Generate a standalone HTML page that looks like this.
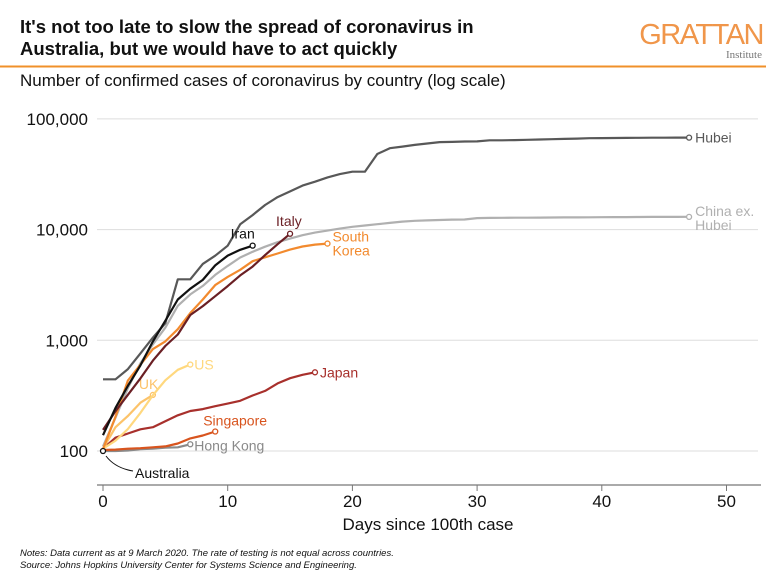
<!DOCTYPE html>
<html><head><meta charset="utf-8">
<style>
body{margin:0;background:#fff;font-family:"Liberation Sans",Arial,sans-serif;}
svg{display:block}
</style></head>
<body>
<svg id="chart" width="781" height="587" xmlns="http://www.w3.org/2000/svg">
<text x="20" y="33" font-size="18.5" font-weight="bold" fill="#111">It's not too late to slow the spread of coronavirus in</text>
<text x="20" y="55" font-size="18.5" font-weight="bold" fill="#111">Australia, but we would have to act quickly</text>
<text x="763" y="44" font-size="29" fill="#f0964a" text-anchor="end" letter-spacing="-1.5">GRATTAN</text>
<text x="762" y="58" font-size="11" fill="#777" text-anchor="end" font-family="Liberation Serif,serif">Institute</text>
<line x1="0" y1="66.5" x2="766" y2="66.5" stroke="#f0902a" stroke-width="2"/>
<text x="20" y="86" font-size="17" fill="#111">Number of confirmed cases of coronavirus by country (log scale)</text>
<g id="grid"></g>
<g id="series"></g>
<line x1="97" y1="485" x2="761" y2="485" stroke="#777" stroke-width="1.2"/>
<text x="428" y="530" font-size="17" text-anchor="middle" fill="#111">Days since 100th case</text>
<text x="20" y="556" font-size="9.5" font-style="italic" fill="#111">Notes: Data current as at 9 March 2020. The rate of testing is not equal across countries.</text>
<text x="20" y="568" font-size="9.5" font-style="italic" fill="#111">Source: Johns Hopkins University Center for Systems Science and Engineering.</text>
</svg>
<script>
const yTicks=[100,1000,10000,100000];
const yTickLabels=["100","1,000","10,000","100,000"];
const xTicks=[0,10,20,30,40,50];
const hubei=[444,444,549,761,1058,1423,3554,3554,4903,5806,7153,11177,13522,16678,19665,22112,24953,27100,29631,31728,33366,33366,48206,54406,56249,58182,59989,61682,62031,62442,62662,64084,64084,64287,64786,65187,65596,65914,66337,66907,67103,67217,67332,67466,67592,67666,67707,67743];
const chinaEx=[110,200,370,620,920,1300,2050,2600,3100,3900,4700,5600,6300,7000,7700,8300,8900,9400,9800,10200,10600,10900,11200,11500,11800,12000,12100,12200,12300,12350,12700,12750,12780,12800,12820,12840,12860,12880,12900,12920,12940,12960,12980,13000,13010,13020,13030,13040];
const iran=[139,245,388,593,978,1501,2336,2922,3513,4747,5823,6566,7161];
const italy=[155,229,322,453,655,888,1128,1694,2036,2502,3089,3858,4636,5883,7375,9172];
const southKorea=[104,204,433,602,833,977,1261,1766,2337,3150,3736,4335,5186,5621,6088,6593,7041,7314,7478];
const us=[105,124,158,221,319,435,541,604];
const uk=[105,164,207,273,321];
const japan=[105,132,144,157,164,186,210,230,239,254,268,284,317,349,408,455,488,514];
const singapore=[102,103,105,106,108,110,117,130,138,150];
const hongKong=[100,100,101,104,105,107,108,115];
const australia=[100];

const X=d=>103+d*12.47;
const Y=v=>451-(Math.log10(v)-2)*110.7;
const NS="http://www.w3.org/2000/svg";
const grid=document.getElementById('grid'),ser=document.getElementById('series'),svg=document.getElementById('chart');
function mk(tag,attrs,parent){const e=document.createElementNS(NS,tag);for(const k in attrs)e.setAttribute(k,attrs[k]);parent.appendChild(e);return e;}
yTicks.forEach((t,i)=>{
  const l=mk('line',{x1:97,x2:758,y1:Y(t),y2:Y(t),stroke:'#ddd','stroke-width':1},grid);
  
  
  const tx=mk('text',{x:88,y:Y(t)+6,'font-size':17,'text-anchor':'end',fill:'#111'},grid);
  tx.textContent=yTickLabels[i];
  
  
});
xTicks.forEach(t=>{
  const l=mk('line',{x1:X(t),x2:X(t),y1:485,y2:491,stroke:'#777'},grid);
  
  
  const tx=mk('text',{x:X(t),y:507,'font-size':17,'text-anchor':'middle',fill:'#111'},grid);
  tx.textContent=t;
  
  
});
const defs=[
 [chinaEx,'#b0b0b0','china-ex-hubei',['China ex.','Hubei'],6,-1],
 [hubei,'#585858','hubei',['Hubei'],6,5],
 [hongKong,'#8a8a8a','hong-kong',['Hong Kong'],4,6],
 [singapore,'#d8541e','singapore',['Singapore'],-12,-6],
 [japan,'#a8302c','japan',['Japan'],5,5],
 [uk,'#fcc36a','uk',['UK'],-14,-6],
 [us,'#ffd87e','us',['US'],4,5],
 [southKorea,'#f28a2e','south-korea',['South','Korea'],5,-2],
 [italy,'#6a1f24','italy',['Italy'],-14,-8],
 [iran,'#111111','iran',['Iran'],-22,-7],
];
defs.forEach(([d,c,name,lab,dx,dy])=>{
  const pts=d.map((v,i)=>X(i).toFixed(1)+','+Y(v).toFixed(1)).join(' ');
  const p=mk('polyline',{points:pts,fill:'none',stroke:c,'stroke-width':2.2,'stroke-linejoin':'round'},ser);
  
  
  const n=d.length-1,ex=X(n),ey=Y(d[n]);
  const ci=mk('circle',{cx:ex,cy:ey,r:2.5,fill:'#fff',stroke:c,'stroke-width':1.3},ser);
  
  
  const t=mk('text',{x:ex+dx,y:ey+dy,'font-size':14,fill:c},ser);
  
  
  lab.forEach((s,i)=>{const ts=mk('tspan',{x:ex+dx,dy:i?14:0},t);ts.textContent=s;});
});
const ac=mk('circle',{cx:X(0),cy:Y(australia[0]),r:2.5,fill:'#fff',stroke:'#111','stroke-width':1.3},ser);


const ar=mk('path',{d:'M133,471 Q115,468 106,456',fill:'none',stroke:'#111','stroke-width':1},ser);


const at=mk('text',{x:135,y:478,'font-size':14,fill:'#111'},ser);
at.textContent='Australia';


</script>
</body></html>
